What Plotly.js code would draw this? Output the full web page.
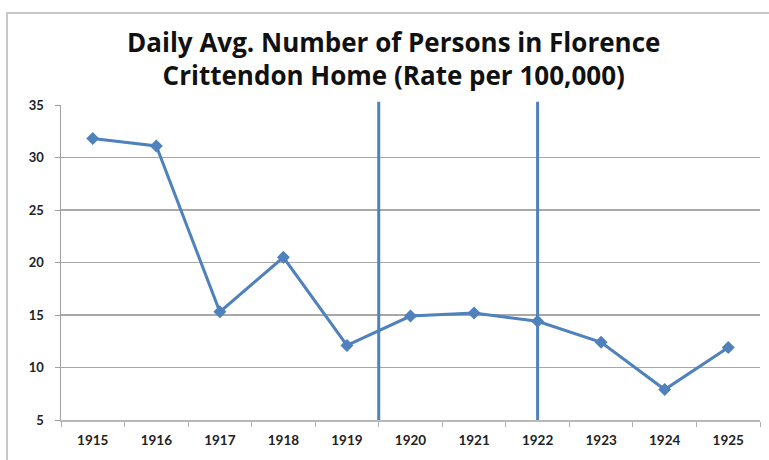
<!DOCTYPE html>
<html>
<head>
<meta charset="utf-8">
<script src="https://cdn.plot.ly/plotly-3.0.1.min.js"></script>
<style>
  html, body { margin: 0; padding: 0; background: #fff; }
  #frame { position: absolute; left: 6px; top: 12px; width: 780px; height: 460px;
           border-left: 2px solid #c8c8c8; border-top: 2px solid #c8c8c8; }
  #chart { position: absolute; left: 0; top: 0; width: 769px; height: 460px; }
</style>
</head>
<body>
<div id="frame"></div>
<div id="chart"></div>
<script>
const years = ['1915','1916','1917','1918','1919','1920','1921','1922','1923','1924','1925'];
const rates = [31.8, 31.1, 15.3, 20.5, 12.1, 14.9, 15.2, 14.4, 12.4, 7.9, 11.9];
const markerLinePositions = [4.5, 7];   // category-axis positions of the vertical reference lines
const yTicks = [5, 10, 15, 20, 25, 30, 35];
const titleText = 'Daily Avg. Number of Persons in Florence<br>Crittendon Home (Rate per 100,000)';

const blue = '#4f81bd';

const trace = {
  x: years, y: rates, type: 'scatter', mode: 'lines+markers',
  line: { color: blue, width: 3 },
  marker: { symbol: 'diamond', size: 10, color: blue },
  cliponaxis: false, hoverinfo: 'skip'
};

const shapes = markerLinePositions.map(p => ({
  type: 'line', xref: 'x', yref: 'paper', x0: p, x1: p, y0: 0, y1: 1.01,
  line: { color: blue, width: 3 }
}));

const layout = {
  width: 769, height: 460,
  margin: { l: 61, r: 9, t: 105, b: 40 },
  paper_bgcolor: 'rgba(0,0,0,0)', plot_bgcolor: 'rgba(0,0,0,0)',
  showlegend: false,
  title: {
    text: titleText,
    font: { family: '"Open Sans", Lato, sans-serif', size: 26, color: '#111', weight: 'bold' },
    x: 0.512, xanchor: 'center', y: 0.888, yanchor: 'top'
  },
  xaxis: {
    type: 'category', tickson: 'boundaries', ticks: 'outside', ticklen: 5,
    tickcolor: '#b0b0b0', showline: true, linecolor: '#b8b8b8', linewidth: 1.5,
    showgrid: false, zeroline: false, fixedrange: true,
    ticklabelstandoff: 7,
    tickfont: { family: 'Lato, sans-serif', size: 13.5, color: '#222', weight: 'bold' },
    range: [-0.5, 10.5]
  },
  yaxis: {
    range: [5, 35], tickvals: yTicks, ticktext: yTicks.map(String),
    ticks: 'outside', ticklen: 5, tickcolor: '#a0a0a0',
    showline: true, linecolor: '#a0a0a0', linewidth: 1.5,
    showgrid: true, gridcolor: '#a8a8a8', gridwidth: 1.5, zeroline: false, fixedrange: true,
    ticklabelstandoff: 8,
    tickfont: { family: 'Lato, sans-serif', size: 13, color: '#222', weight: 'bold' }
  },
  shapes: shapes
};

Plotly.newPlot('chart', [trace], layout, { staticPlot: true, displayModeBar: false });
</script>
</body>
</html>
